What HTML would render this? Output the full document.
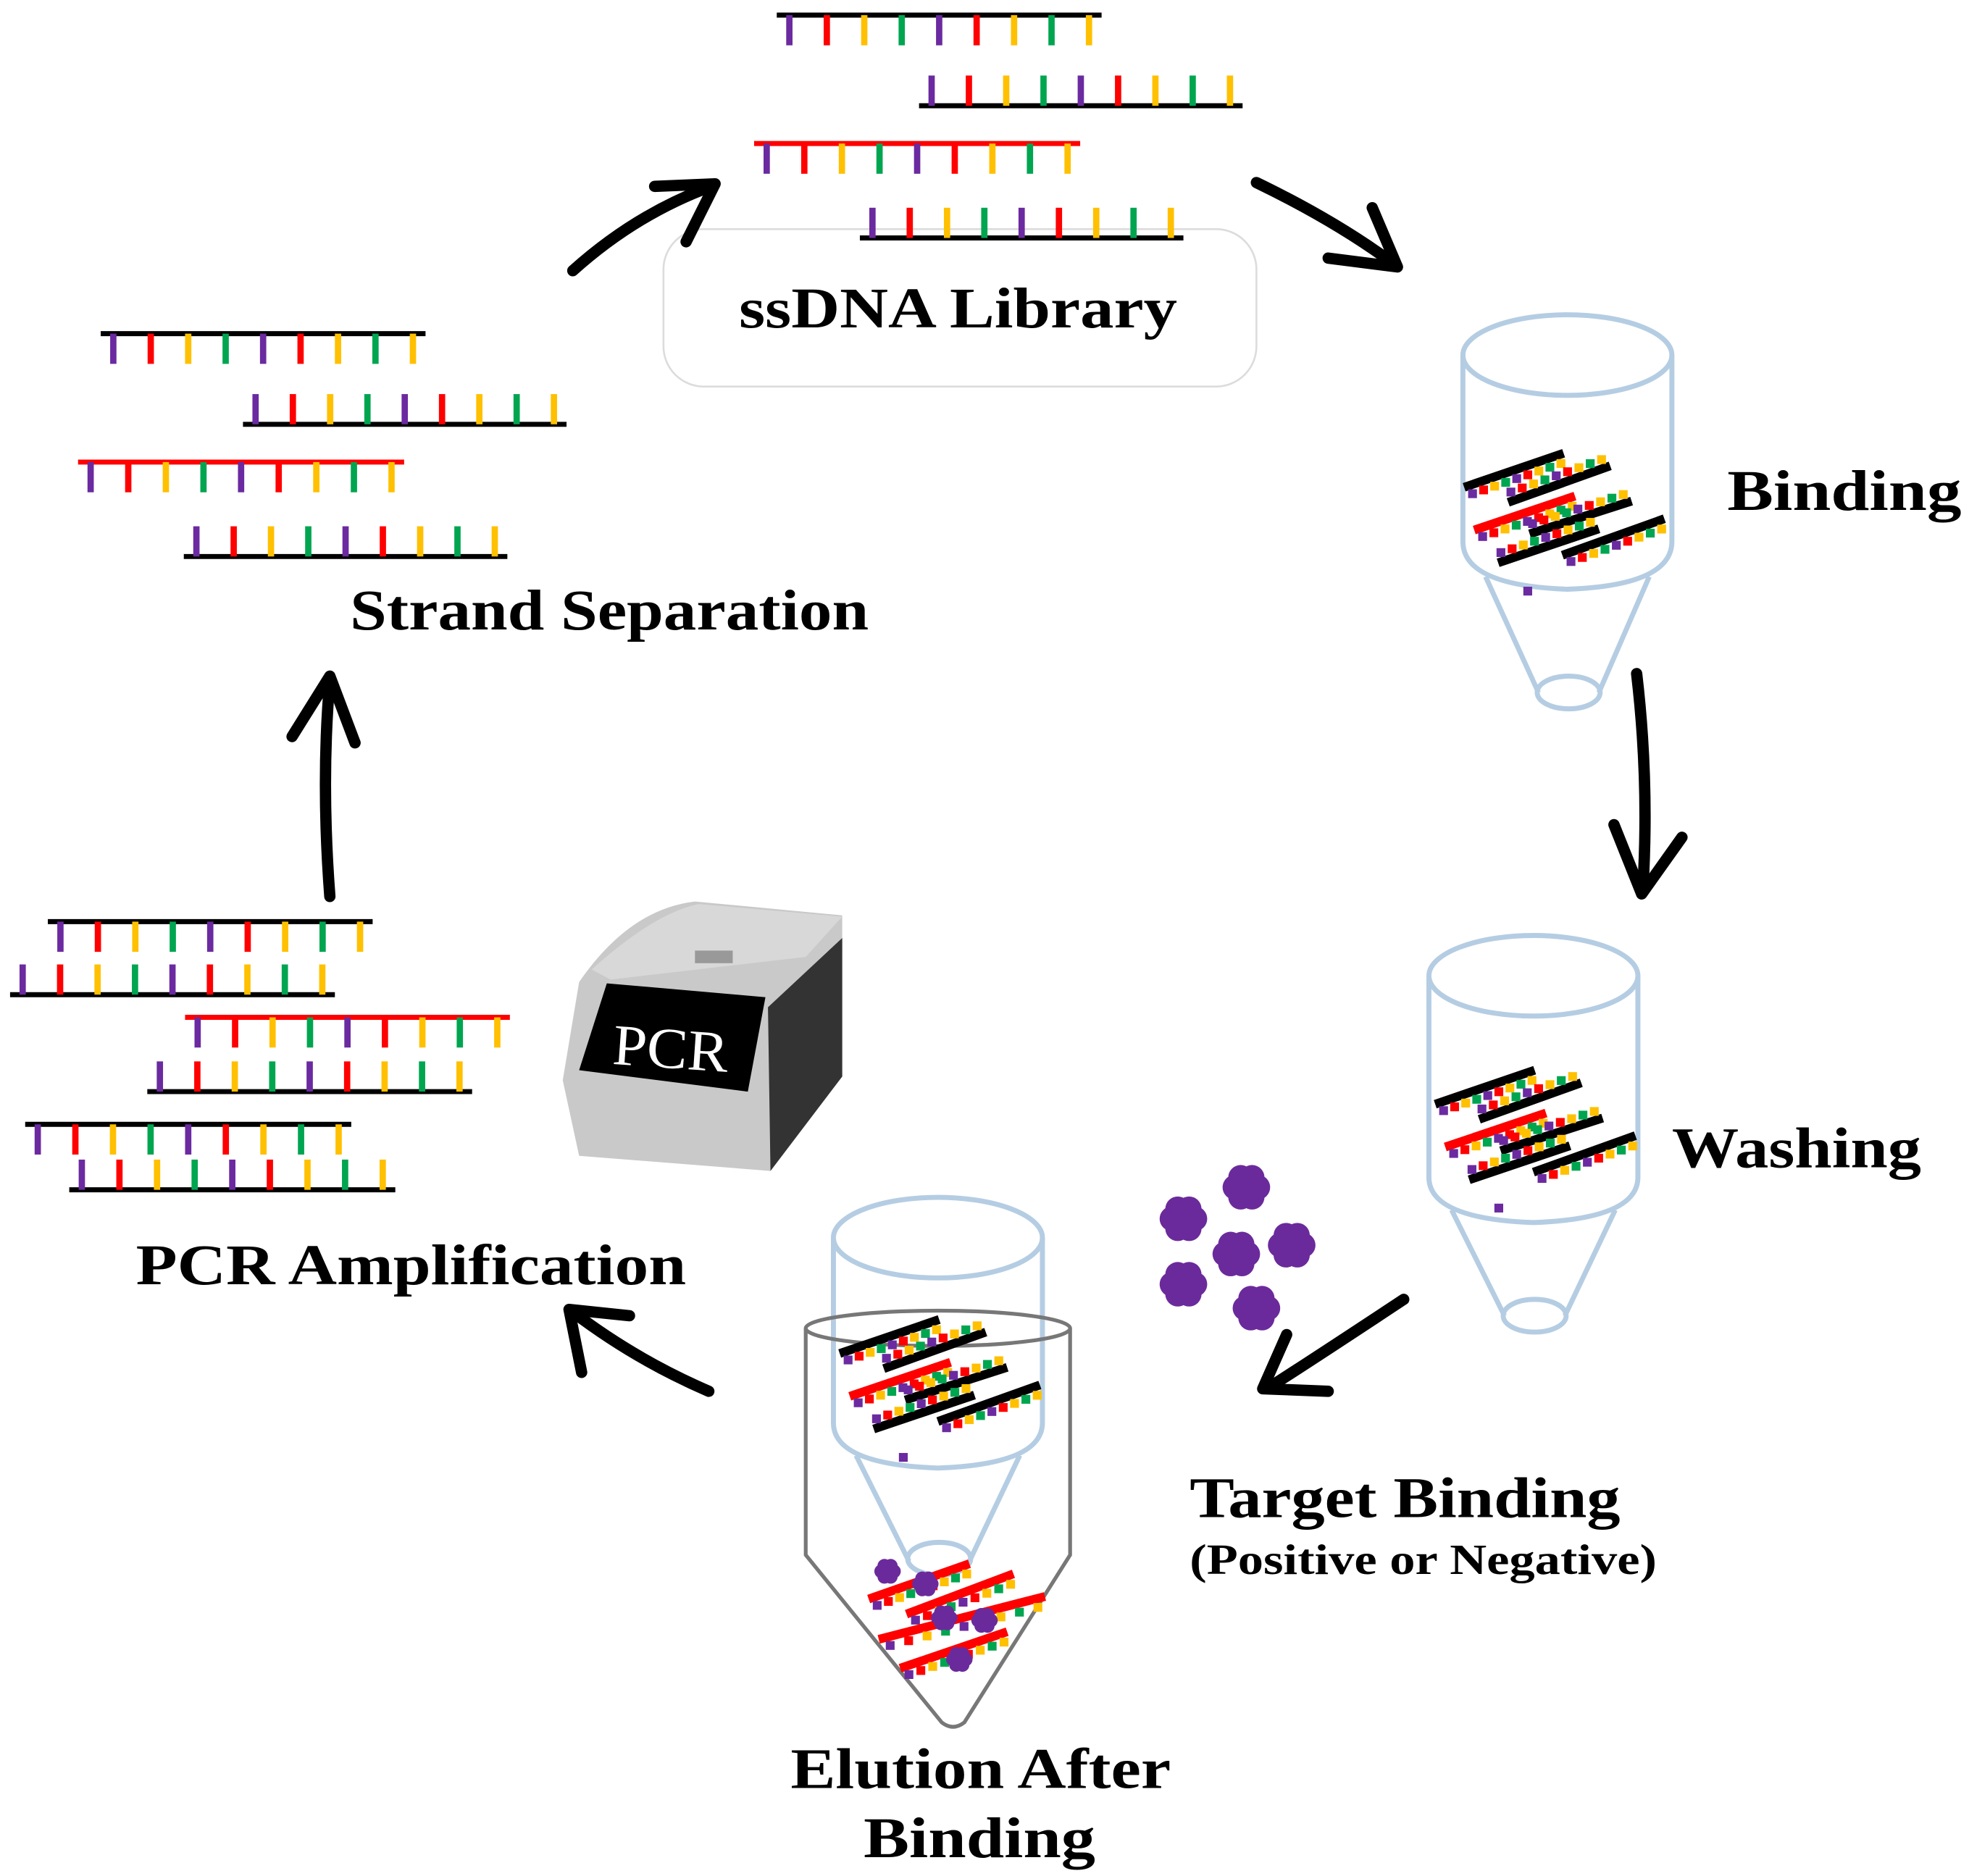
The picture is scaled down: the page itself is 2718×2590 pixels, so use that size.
<!DOCTYPE html>
<html><head><meta charset="utf-8"><style>
html,body{margin:0;padding:0;background:#fff;}
svg{display:block;}
text{font-family:"Liberation Serif",serif;font-weight:bold;fill:#000;}
</style></head><body>
<svg id="s" width="2718" height="2590" viewBox="0 0 1564 1490" preserveAspectRatio="none" xmlns="http://www.w3.org/2000/svg">
<rect x="0" y="0" width="1564" height="1490" fill="#fff"/>
<rect x="527" y="182" width="471" height="125" rx="32" fill="none" stroke="#dcdcdc" stroke-width="1.5"/>
<g id="dna"></g>
<g id="tubes" fill="none" stroke="#b5cde3" stroke-width="4">
 <ellipse cx="1245" cy="282" rx="83" ry="32"/>
 <path d="M1162 282 L1162 430 Q1162 465 1245 468 Q1328 465 1328 430 L1328 282"/>
 <path d="M1180 458 L1222 550 M1310 458 L1270 550"/>
 <ellipse cx="1246" cy="550" rx="25" ry="13"/>
 <ellipse cx="1218" cy="775" rx="83" ry="32"/>
 <path d="M1135 775 L1135 935 Q1135 968 1218 971 Q1301 968 1301 935 L1301 775"/>
 <path d="M1153 961 L1195 1045 M1283 961 L1243 1045"/>
 <ellipse cx="1219" cy="1045" rx="25" ry="13"/>
 <ellipse cx="745" cy="983" rx="83" ry="32"/>
 <path d="M662 983 L662 1130 Q662 1163 745 1166 Q828 1163 828 1130 L828 983"/>
 <path d="M680 1156 L722 1240 M810 1156 L770 1240"/>
 <ellipse cx="746" cy="1238" rx="25" ry="13"/>
</g>
<g fill="none" stroke="#777" stroke-width="3">
 <ellipse cx="745" cy="1055" rx="105" ry="14"/>
 <path d="M640 1055 L640 1235 L748 1368 Q757 1375 766 1368 L850 1235 L850 1055"/>
</g>
<g id="mini"></g>
<g fill="#6b2a9b" id="blobs"></g>
<g>
 <path d="M447 858 L460 780 Q500 722 552 716 L669 727 L669 855 L612 930 L460 918 Z" fill="#c9c9c9"/>
 <path d="M610 800 L669 745 L669 855 L612 930 Z" fill="#333"/>
 <path d="M470 770 Q520 725 555 718 L669 728 L640 760 L485 778 Z" fill="#d8d8d8"/>
 <path d="M482 781 L608 792 L594 867 L460 850 Z" fill="#000"/>
 <text x="487" y="848" font-size="46" style="fill:#fff;font-weight:normal" transform="rotate(4 530 830)" textLength="92" lengthAdjust="spacingAndGlyphs">PCR</text>
 <rect x="552" y="755" width="30" height="10" fill="#999"/>
</g>
<g stroke="#000" stroke-width="9" fill="none" stroke-linecap="round" stroke-linejoin="round">
 <path d="M455 215 Q505 170 565 148"/>
 <path d="M520 148 L568 146 L545 192"/>
 <path d="M998 145 Q1060 175 1105 208"/>
 <path d="M1055 205 L1110 212 L1090 165"/>
 <path d="M1300 535 Q1310 620 1305 705"/>
 <path d="M1282 655 L1304 710 L1336 665"/>
 <path d="M1115 1032 Q1050 1075 1008 1102"/>
 <path d="M1055 1105 L1003 1103 L1022 1060"/>
 <path d="M563 1105 Q505 1080 455 1042"/>
 <path d="M462 1090 L452 1040 L500 1045"/>
 <path d="M262 712 Q255 620 262 540"/>
 <path d="M232 585 L262 537 L282 590"/>
</g>
<g lengthAdjust="spacingAndGlyphs">
<text x="587" y="260" font-size="46" textLength="348" lengthAdjust="spacingAndGlyphs">ssDNA Library</text>
<text x="278" y="500" font-size="46" textLength="412" lengthAdjust="spacingAndGlyphs">Strand Separation</text>
<text x="1372" y="405" font-size="46" textLength="186" lengthAdjust="spacingAndGlyphs">Binding</text>
<text x="1328" y="927" font-size="46" textLength="198" lengthAdjust="spacingAndGlyphs">Washing</text>
<text x="945" y="1205" font-size="46" textLength="342" lengthAdjust="spacingAndGlyphs">Target Binding</text>
<text x="945" y="1250" font-size="34" textLength="371" lengthAdjust="spacingAndGlyphs">(Positive or Negative)</text>
<text x="628" y="1420" font-size="46" textLength="302" lengthAdjust="spacingAndGlyphs">Elution After</text>
<text x="686" y="1475" font-size="46" textLength="184" lengthAdjust="spacingAndGlyphs">Binding</text>
<text x="108" y="1020" font-size="46" textLength="437" lengthAdjust="spacingAndGlyphs">PCR Amplification</text>
</g>
</svg>
<script>
var NS="http://www.w3.org/2000/svg";
var C=["#6b2aa0","#ff0000","#ffc000","#00a550"];
var seq=[0,1,2,3,0,1,2,3,2];
function el(p,t,a){var e=document.createElementNS(NS,t);for(var k in a)e.setAttribute(k,a[k]);p.appendChild(e);return e;}
var g=document.getElementById("dna");
function strand(x1,x2,y,dir,col){
 el(g,"line",{x1:x1,x2:x2,y1:y,y2:y,stroke:col,"stroke-width":4});
 var n=9,step=(x2-x1-20)/(n-1);
 for(var i=0;i<n;i++){var x=x1+10+i*step;
  el(g,"rect",{x:x-2.5,y:dir>0?y:y-24,width:5,height:24,fill:C[seq[i]]});}
}
strand(617,875,12,1,"#000");strand(730,987,84,-1,"#000");
strand(599,858,114,1,"#f00");strand(683,940,189,-1,"#000");
strand(80,338,265,1,"#000");strand(193,450,337,-1,"#000");
strand(62,321,367,1,"#f00");strand(146,403,442,-1,"#000");
strand(38,296,732,1,"#000");strand(8,266,790,-1,"#000");
strand(147,405,808,1,"#f00");strand(117,375,867,-1,"#000");
strand(20,279,893,1,"#000");strand(55,314,945,-1,"#000");
var m=document.getElementById("mini");
function mini(gr,x1,y1,x2,y2,col,side){
 el(gr,"line",{x1:x1,y1:y1,x2:x2,y2:y2,stroke:col,"stroke-width":7});
 var dx=x2-x1,dy=y2-y1,L=Math.sqrt(dx*dx+dy*dy),nx=-dy/L*side,ny=dx/L*side;
 for(var i=0;i<9;i++){var t=(i+0.5)/9,x=x1+dx*t+nx*7,y=y1+dy*t+ny*7;
  el(gr,"rect",{x:x-3.5,y:y-3.5,width:7,height:7,fill:C[seq[i]]});}
}
var S=[[1163,387,1242,360,"#000",1],[1198,399,1279,370,"#000",-1],[1171,421,1251,394,"#f00",1],
[1215,424,1296,398,"#000",-1],[1190,447,1270,420,"#000",-1],[1241,441,1322,412,"#000",1]];
function group(ox,oy){var gr=el(m,"g",{transform:"translate("+ox+","+oy+")"});
 S.forEach(function(s){mini(gr,s[0],s[1],s[2],s[3],s[4],s[5]);});
 el(gr,"rect",{x:1210,y:466,width:7,height:7,fill:"#6b2aa0"});}
group(0,0);group(-23,490);group(-496,688);
var gr=el(m,"g",{});
mini(gr,690,1270,770,1242,"#f00",1);mini(gr,720,1282,805,1250,"#f00",1);
mini(gr,698,1302,830,1268,"#f00",1);mini(gr,715,1325,800,1296,"#f00",1);
var b=document.getElementById("blobs");
[[940,968],[990,943],[982,996],[1026,989],[940,1020],[998,1039],[705,1248],[735,1258],[750,1285],[782,1287],[762,1318]].forEach(function(p,i){
 var r=i<6?18:10;
 for(var k=0;k<6;k++){var a=k*Math.PI/3;el(b,"circle",{cx:p[0]+Math.cos(a)*r*0.5,cy:p[1]+Math.sin(a)*r*0.5,r:r*0.55});}
 el(b,"circle",{cx:p[0],cy:p[1],r:r*0.7});
});
</script>
</body></html>
